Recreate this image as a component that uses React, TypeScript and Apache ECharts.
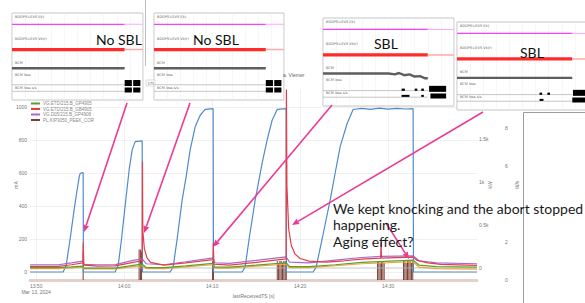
import React, { useEffect, useRef } from 'react';
import * as echarts from 'echarts';

// ---------------- main chart data (x = minutes after 13:50) ----------------
const X_TICKS = [0, 10, 20, 30, 40];
const X_TICK_LABELS = ['13:50', '14:00', '14:10', '14:20', '14:30'];
const X_DATE = 'Mar 13, 2024';
const X_NAME = 'lastReceivedTS [s]';
const LEFT_TICKS = [0, 200, 400, 600, 800, 1000];
const RIGHT_K_TICKS = [0, 500, 1000, 1500];
const RIGHT_K_LABELS = ['0', '0.5k', '1k', '1.5k'];
const RIGHT_N_TICKS = [0, 2, 6, 8];

const NAME_GREEN = 'VG.ETD/215.B_GP4905';
const NAME_RED = 'VG.ETD/215.B_GB4905';
const NAME_PURPLE = 'VG.D05/215.B_GP4908';
const NAME_BROWN = 'PL.KIP3050_PEEK_COR';

const BLUE = [
  [-0.7, 0], [3.07, 0], [3.41, 40], [3.86, 200], [4.32, 380], [4.66, 500], [4.89, 575], [5.0, 598], [5.34, 603], [5.37, 0],
  [8.98, 0], [9.32, 40], [9.66, 180], [10.11, 400], [10.57, 620], [10.91, 740], [11.25, 790], [12.05, 795], [12.08, 0],
  [15.23, 0], [15.57, 30], [16.02, 200], [16.59, 436], [17.05, 580], [17.5, 740], [18.07, 880], [18.64, 950], [19.2, 985], [20.11, 990], [20.15, 0],
  [23.41, 0], [23.75, 30], [24.2, 200], [24.89, 436], [25.68, 660], [26.25, 800], [26.82, 920], [27.39, 985], [28.41, 990], [28.44, 0],
  [31.48, 0], [31.82, 30], [32.5, 200], [33.41, 436], [33.98, 600], [34.55, 760], [35.34, 900], [36.02, 985],
  [37, 992], [38, 986], [39, 993], [40, 987], [41, 992], [42, 988], [42.84, 990], [42.88, 0], [50.1, 0],
];
const RED = [
  [-0.7, 34], [2.5, 34], [4, 44], [5.32, 55], [5.35, 180], [5.42, 42], [7, 36], [9, 37], [11, 58], [12.04, 68],
  [12.08, 670], [12.12, 250], [12.3, 140], [12.6, 85], [13, 58], [14.5, 42], [17, 55], [20.1, 75], [20.13, 175],
  [20.2, 48], [22, 42], [25, 58], [28.4, 80], [28.44, 1115], [28.5, 520], [28.7, 260], [29, 160], [29.4, 110],
  [30, 82], [31, 66], [33, 60], [35, 68], [37, 78], [39.15, 84], [39.2, 180], [39.25, 84], [41, 87], [42.84, 90],
  [43.3, 70], [44.5, 55], [46, 46], [50.1, 40],
];
const PURPLE = [
  [-0.7, 44], [2.5, 44], [4, 55], [5.3, 66], [5.45, 46], [7, 44], [9, 45], [11, 70], [12.05, 80], [12.5, 50],
  [14.5, 44], [17, 62], [20.1, 86], [20.3, 56], [22, 52], [25, 70], [28.4, 92], [28.8, 60], [31, 55], [34, 72],
  [37, 88], [39.2, 95], [42.84, 98], [43.5, 68], [45.5, 55], [50.1, 50],
];
const GREEN = [
  [-0.7, 26], [2.5, 26], [4, 31], [5.3, 36], [5.45, 24], [9, 24], [11, 40], [12.05, 48], [12.5, 27], [14.5, 26],
  [17, 37], [20.1, 52], [20.3, 30], [22, 30], [25, 42], [28.4, 56], [28.8, 32], [31, 32], [34, 44], [37, 58],
  [42.84, 72], [43.5, 42], [45.5, 32], [50.1, 30],
];
const ORANGE = [
  [-0.7, 20], [2.5, 20], [4, 25], [5.3, 29], [5.45, 19], [9, 19], [11, 32], [12.05, 38], [12.5, 21], [14.5, 21],
  [17, 31], [20.1, 44], [20.3, 24], [22, 24], [25, 35], [28.4, 47], [28.8, 26], [31, 26], [34, 38], [37, 50],
  [42.84, 62], [43.5, 30], [45.5, 20], [50.1, 17],
];
const GRAY_ZERO = [[-0.7, 0], [50.1, 0]];
const BROWN = [
  [5.34, 1.5],
  [11.7, 1.6], [11.85, 1.6], [11.98, 1.5],
  [20.05, 1.0], [20.15, 1.0],
  [27.4, 1.0], [27.55, 0.9], [27.7, 1.0], [27.85, 1.0], [28.0, 0.9], [28.15, 1.0], [28.3, 1.0], [28.42, 0.95],
  [38.8, 1.0], [38.95, 1.0], [39.1, 0.9], [39.25, 1.0], [39.4, 1.0], [39.55, 0.9],
  [41.75, 1.0], [41.9, 1.0], [42.05, 0.9], [42.2, 1.0], [42.35, 1.0], [42.5, 1.0], [42.65, 0.9], [42.8, 1.0],
];

// ---------------- inset panel data (x 0..100, y 0..100) ----------------
const PANEL_ROW_TITLES = ['BDOPS:LEVS I(k)', 'BDOPS:LEVS Vk(r)', 'BCM', 'BCM loss', 'BCM loss s/s'];
const PANEL_SEPARATORS = [76, 47, 31, 15.5];
const PANEL_LABELS = ['No SBL', 'No SBL', 'SBL', 'SBL'];
const LVL_MAG = 87;
const LVL_RED = 58;
const LVL_BAND = 36.5;
const LVL_ROW4 = 19.5;
const LVL_ROW5 = 11.5;
const LVL_LOSS4 = 17.5;
const LVL_LOSS5 = 10;
const PANEL_END = [86, 86, 80, 88];
const PANEL_BAND = [
  [[0, LVL_BAND], [86, LVL_BAND]],
  [[0, LVL_BAND], [86, LVL_BAND]],
  [[0, 37], [50, 37], [55, 36], [58, 37.5], [62, 35], [66, 36], [70, 33.5], [74, 34], [78, 31.5], [80, 31.5]],
  [[0, LVL_BAND], [88, LVL_BAND]],
];
const PANEL_ROW4_BLOCKS = [
  [[86, 91.5], [92.5, 98]],
  [[86, 91.5], [92.5, 98]],
  [[81, 94]],
  [[88.5, 100]],
];
const PANEL_ROW5_BLOCKS = [
  [[86, 91.5], [92.5, 98]],
  [[86, 91.5], [92.5, 98]],
  [[82, 94]],
  [[88, 100]],
];
const PANEL_ROW4_BUMPS = [[], [], [[60, 62.5], [70, 72], [75, 77]], [[63, 65], [69, 71]]];
const PANEL_ROW5_BUMPS = [[], [], [[60, 66], [75, 77]], [[63, 66]]];

// ---------------- layout (pixels) ----------------
const PANEL_FRAMES = [
  [12, 13, 131, 87],
  [154, 13, 130, 87],
  [323, 18, 131, 88],
  [457, 22, 131, 88],
];
const PANEL_LABEL_POS = [[96, 32], [193, 32], [374, 36], [520, 45]];
const ARROWS = [
  [127, 103, 84, 232],
  [190, 103, 144, 233],
  [332, 105, 213, 247],
  [483, 112, 292, 225],
  [386, 223, 409, 259],
];
const NOTE_LINES = ['We kept knocking and the abort stopped', 'happening.', 'Aging effect?'];
const PINK = '#ec3b94';

function arrow(x1: number, y1: number, x2: number, y2: number) {
  const ang = Math.atan2(y2 - y1, x2 - x1);
  const L = 7;
  const W = 3;
  const bx = x2 - L * Math.cos(ang);
  const by = y2 - L * Math.sin(ang);
  const px = -Math.sin(ang) * W;
  const py = Math.cos(ang) * W;
  return [
    { type: 'line', z: 100, silent: true, shape: { x1, y1, x2: bx, y2: by }, style: { stroke: PINK, lineWidth: 1.6 } },
    { type: 'polygon', z: 100, silent: true, shape: { points: [[x2, y2], [bx + px, by + py], [bx - px, by - py]] }, style: { fill: PINK } },
  ];
}

function seg(x0: number, x1: number, y: number) {
  return [[x0, y], [x1, y]];
}

export default function App() {
  const ref = useRef<HTMLDivElement>(null);

  useEffect(() => {
    if (!ref.current) return;
    const chart = echarts.init(ref.current, null, { renderer: 'svg' });

    const grids: any[] = [
      { left: 30, right: 108, top: 90, bottom: 23, containLabel: false, outerBoundsMode: 'none' },
    ];
    const xAxes: any[] = [
      {
        type: 'value', gridIndex: 0, min: -0.7, max: 50.1,
        axisLine: { show: true, onZero: false, lineStyle: { color: '#e3d0cb', width: 3 } },
        axisTick: { show: false, customValues: X_TICKS },
        axisLabel: {
          customValues: X_TICKS, fontSize: 5, color: '#777', margin: 3, lineHeight: 6,
          formatter: (v: number) => {
            const i = X_TICKS.indexOf(v);
            const t = i >= 0 ? X_TICK_LABELS[i] : '';
            return i === 0 ? t + '\n' + X_DATE : t;
          },
        },
        splitLine: { show: true, lineStyle: { color: '#efefef', width: 0.8 } },
        name: X_NAME, nameLocation: 'middle', nameGap: 13, nameMoveOverlap: false,
        nameTextStyle: { fontSize: 5, color: '#777' },
      },
    ];
    const yAxes: any[] = [
      {
        type: 'value', gridIndex: 0, position: 'left', min: -48.5, max: 1103,
        axisLine: { show: false },
        axisTick: { show: false, customValues: LEFT_TICKS },
        axisLabel: { customValues: LEFT_TICKS, fontSize: 5, color: '#777', margin: 3, formatter: (v: number) => String(v) },
        splitLine: { show: true, lineStyle: { color: '#ececec', width: 0.8 } },
        name: 'mA', nameLocation: 'middle', nameGap: 12, nameRotate: 90, nameMoveOverlap: false,
        nameTextStyle: { fontSize: 5, color: '#777' },
      },
      {
        type: 'value', gridIndex: 0, position: 'right', min: -139.5, max: 2070,
        axisLine: { show: false },
        axisTick: { show: false, customValues: RIGHT_K_TICKS },
        axisLabel: {
          customValues: RIGHT_K_TICKS, fontSize: 5, color: '#777', margin: 2,
          formatter: (v: number) => RIGHT_K_LABELS[RIGHT_K_TICKS.indexOf(v)] ?? '',
        },
        splitLine: { show: false },
        name: 'kW', nameLocation: 'middle', nameGap: 10, nameRotate: 90, nameMoveOverlap: false,
        nameTextStyle: { fontSize: 5, color: '#777' },
      },
      {
        type: 'value', gridIndex: 0, position: 'right', offset: 27, min: 0, max: 10,
        axisLine: { show: false },
        axisTick: { show: false, customValues: RIGHT_N_TICKS },
        axisLabel: { customValues: RIGHT_N_TICKS, fontSize: 5, color: '#777', margin: 1 },
        splitLine: { show: false },
        name: 'W/s', nameLocation: 'middle', nameGap: 10, nameRotate: 90, nameMoveOverlap: false,
        nameTextStyle: { fontSize: 5, color: '#777' },
      },
    ];

    const lineS = (name: string, data: any, color: string, z: number, yIdx = 0, width = 1.2) => ({
      type: 'line', name, data, xAxisIndex: 0, yAxisIndex: yIdx, showSymbol: false, symbol: 'none',
      silent: true, z, color, lineStyle: { color, width },
    });

    const series: any[] = [
      lineS('zero', GRAY_ZERO, '#b5b5b5', 2, 1, 0.8),
      {
        type: 'bar', name: NAME_BROWN, data: BROWN, xAxisIndex: 0, yAxisIndex: 2, barWidth: 1,
        silent: true, z: 2, color: '#7a3e32', itemStyle: { color: '#7a3e32' },
      },
      lineS('blue', BLUE, '#4f8bcb', 3),
      lineS('orange', ORANGE, '#f2a33c', 3),
      lineS(NAME_GREEN, GREEN, '#5aa02c', 4),
      lineS(NAME_PURPLE, PURPLE, '#a36bd0', 4),
      lineS(NAME_RED, RED, '#e43d4b', 5),
    ];

    const graphic: any[] = [];

    PANEL_FRAMES.forEach((f, p) => {
      const gi = p + 1;
      const yi = 3 + p;
      grids.push({
        left: f[0], top: f[1], width: f[2], height: f[3], show: true, z: 10, outerBoundsMode: 'none',
        backgroundColor: '#ffffff', borderColor: '#c4c4c4', borderWidth: 1,
      });
      xAxes.push({
        type: 'value', gridIndex: gi, min: 0, max: 100, interval: 10, z: 11,
        axisLine: { show: false }, axisTick: { show: false }, axisLabel: { show: false },
        splitLine: { show: true, lineStyle: { color: '#eeeeee', width: 0.5 } },
      });
      yAxes.push({ type: 'value', gridIndex: gi, min: 0, max: 100, show: false });
      const ps = (data: any, color: string, width: number, extra: any = {}) => ({
        type: 'line', data, xAxisIndex: gi, yAxisIndex: yi, symbol: 'none', showSymbol: false,
        silent: true, z: 12, lineStyle: { color, width, cap: 'butt' }, color, ...extra,
      });
      const end = PANEL_END[p];
      series.push(ps(seg(0, end, LVL_MAG), '#ff3cff', 1.2, {
        markLine: {
          silent: true, symbol: 'none', label: { show: false },
          lineStyle: { color: '#d2d2d2', width: 0.6, type: 'solid' },
          data: PANEL_SEPARATORS.map((v) => ({ yAxis: v })),
        },
      }));
      series.push(ps(seg(end, 100, LVL_MAG), '#ffa8ff', 1.1));
      series.push(ps(seg(0, end, LVL_RED), '#ff2a2a', 3.2));
      series.push(ps(seg(end, 100, LVL_RED), '#ffaaaa', 1.6));
      series.push(ps(PANEL_BAND[p], '#5e5e5e', 2.4));
      series.push(ps(seg(0, end, LVL_LOSS4), '#a0a0a0', 0.6));
      series.push(ps(seg(0, end, LVL_LOSS5), '#a0a0a0', 0.6));
      PANEL_ROW4_BLOCKS[p].forEach((b) => series.push(ps(seg(b[0], b[1], LVL_ROW4), '#000', 6)));
      PANEL_ROW5_BLOCKS[p].forEach((b) => series.push(ps(seg(b[0], b[1], LVL_ROW5), '#000', 5)));
      PANEL_ROW4_BUMPS[p].forEach((b) => series.push(ps(seg(b[0], b[1], LVL_ROW4 - 1), '#000', 2.2)));
      PANEL_ROW5_BUMPS[p].forEach((b) => series.push(ps(seg(b[0], b[1], LVL_ROW5), '#000', 2)));

      const offs = [1.5, 24, 47.5, 60, 72.5];
      PANEL_ROW_TITLES.forEach((t, r) => {
        graphic.push({
          type: 'text', z: 60, silent: true, x: f[0] + 3, y: f[1] + offs[r],
          style: { text: t, fontSize: 3.5, fill: '#666', fontFamily: 'DejaVu Sans', verticalAlign: 'top' },
        });
      });
      graphic.push({
        type: 'text', z: 60, silent: true, x: PANEL_LABEL_POS[p][0], y: PANEL_LABEL_POS[p][1],
        style: { text: PANEL_LABELS[p], fontSize: 14, fill: '#111', fontFamily: 'Lato', verticalAlign: 'top' },
      });
    });

    // decorative frame pieces around the pasted screenshots
    graphic.push({ type: 'line', z: 60, silent: true, shape: { x1: 145.5, y1: 0, x2: 145.5, y2: 66 }, style: { stroke: '#bdbdbd', lineWidth: 1 } });
    graphic.push({ type: 'rect', z: 60, silent: true, shape: { x: 146, y: 80, width: 9, height: 6 }, style: { fill: '#fff', stroke: '#c8c8c8', lineWidth: 0.6 } });
    graphic.push({ type: 'text', z: 61, silent: true, x: 147.5, y: 81, style: { text: '175', fontSize: 4, fill: '#555', verticalAlign: 'top' } });
    graphic.push({ type: 'text', z: 61, silent: true, x: 283, y: 72, style: { text: 'a. Vlemer', fontSize: 5, fill: '#666', verticalAlign: 'top' } });
    // blank panel at the right bottom
    graphic.push({ type: 'rect', z: 55, silent: true, shape: { x: 523.5, y: 112.5, width: 70, height: 200 }, style: { fill: '#fff', stroke: '#9c9c9c', lineWidth: 1 } });

    ARROWS.forEach((a) => graphic.push(...arrow(a[0], a[1], a[2], a[3])));

    graphic.push({
      type: 'text', z: 101, silent: true, x: 333, y: 200,
      style: { text: NOTE_LINES.join('\n'), fontSize: 14, lineHeight: 16.5, fill: '#1a1a1a', fontFamily: 'Lato', verticalAlign: 'top' },
    });

    const option: any = {
      animation: false,
      backgroundColor: '#ffffff',
      textStyle: { fontFamily: 'Liberation Sans' },
      legend: {
        data: [NAME_GREEN, NAME_RED, NAME_PURPLE, NAME_BROWN],
        left: 31, top: 101, orient: 'vertical', padding: 0, itemGap: 0.5,
        itemWidth: 9, itemHeight: 2, icon: 'rect', selectedMode: false,
        textStyle: { fontSize: 4.5, color: '#888', padding: [0, 0, 0, -2] },
      },
      grid: grids,
      xAxis: xAxes,
      yAxis: yAxes,
      series,
      graphic,
    };
    chart.setOption(option);
    return () => chart.dispose();
  }, []);

  return <div ref={ref} style={{ width: 585, height: 303, position: 'absolute', left: 0, top: 0 }} />;
}
